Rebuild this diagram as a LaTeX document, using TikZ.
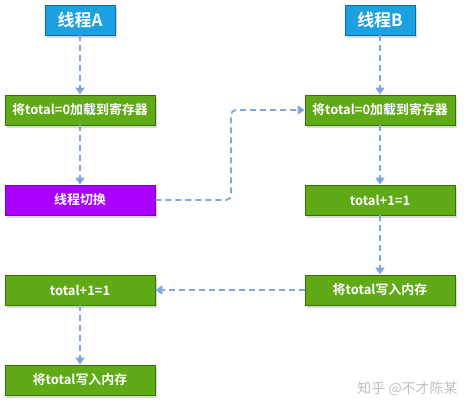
\documentclass[tikz,border=0pt]{standalone}
\usepackage{fontspec}
\setmainfont{Noto Sans CJK SC}
\newfontfamily\cjkbold{Noto Sans CJK SC Bold}
\usetikzlibrary{shadows,arrows.meta}
\definecolor{tblue}{HTML}{1BA1E2}
\definecolor{tblueb}{HTML}{006EAF}
\definecolor{tgreen}{HTML}{60A917}
\definecolor{tgreenb}{HTML}{2D7600}
\definecolor{tpurple}{HTML}{AA00FF}
\definecolor{tpurpleb}{HTML}{7700CC}
\definecolor{flow}{HTML}{7EA6E0}
\tikzset{
  base/.style={draw, line width=0.8bp, text=white, inner sep=0pt, anchor=center,
    drop shadow={shadow xshift=2bp, shadow yshift=-3bp, opacity=0.3, fill=gray}},
  titlebox/.style={base, fill=tblue, draw=tblueb, minimum width=70bp, minimum height=30bp, font=\cjkbold\fontsize{17}{19}\selectfont},
  greenbox/.style={base, fill=tgreen, draw=tgreenb, minimum width=150bp, minimum height=30bp, font=\cjkbold\fontsize{13}{15}\selectfont},
  purplebox/.style={base, fill=tpurple, draw=tpurpleb, minimum width=150bp, minimum height=30bp, font=\cjkbold\fontsize{13}{15}\selectfont},
  flowline/.style={draw=flow, line width=1.8bp, dash pattern=on 6bp off 4bp, -{Triangle[length=7bp,width=9bp]}}
}
\begin{document}
\begin{tikzpicture}[x=1bp,y=-1bp]
\useasboundingbox (0,0) rectangle (472,412);
\node[titlebox] (ta) at (80,20) {线程A};
\node[titlebox] (tb) at (380,20) {线程B};
\node[greenbox] (la) at (80,110) {将total=0加载到寄存器};
\node[greenbox] (lb) at (380,110) {将total=0加载到寄存器};
\node[purplebox] (sw) at (80,200) {线程切换};
\node[greenbox] (pb) at (380,200) {total+1=1};
\node[greenbox] (wb) at (380,290) {将total写入内存};
\node[greenbox] (pa) at (80,290) {total+1=1};
\node[greenbox] (wa) at (80,380) {将total写入内存};
\node[text=gray!50, font=\fontsize{14}{16}\selectfont, anchor=east] (wm) at (461,389) {知乎 @不才陈某};
\draw[flowline] (ta) -- (la);
\draw[flowline] (la) -- (sw);
\draw[flowline, rounded corners=5bp] (sw.east) -- (231,200) -- (231,110) -- (lb.west);
\draw[flowline] (tb) -- (lb);
\draw[flowline] (lb) -- (pb);
\draw[flowline] (pb) -- (wb);
\draw[flowline] (wb) -- (pa);
\draw[flowline] (pa) -- (wa);
\end{tikzpicture}
\end{document}
